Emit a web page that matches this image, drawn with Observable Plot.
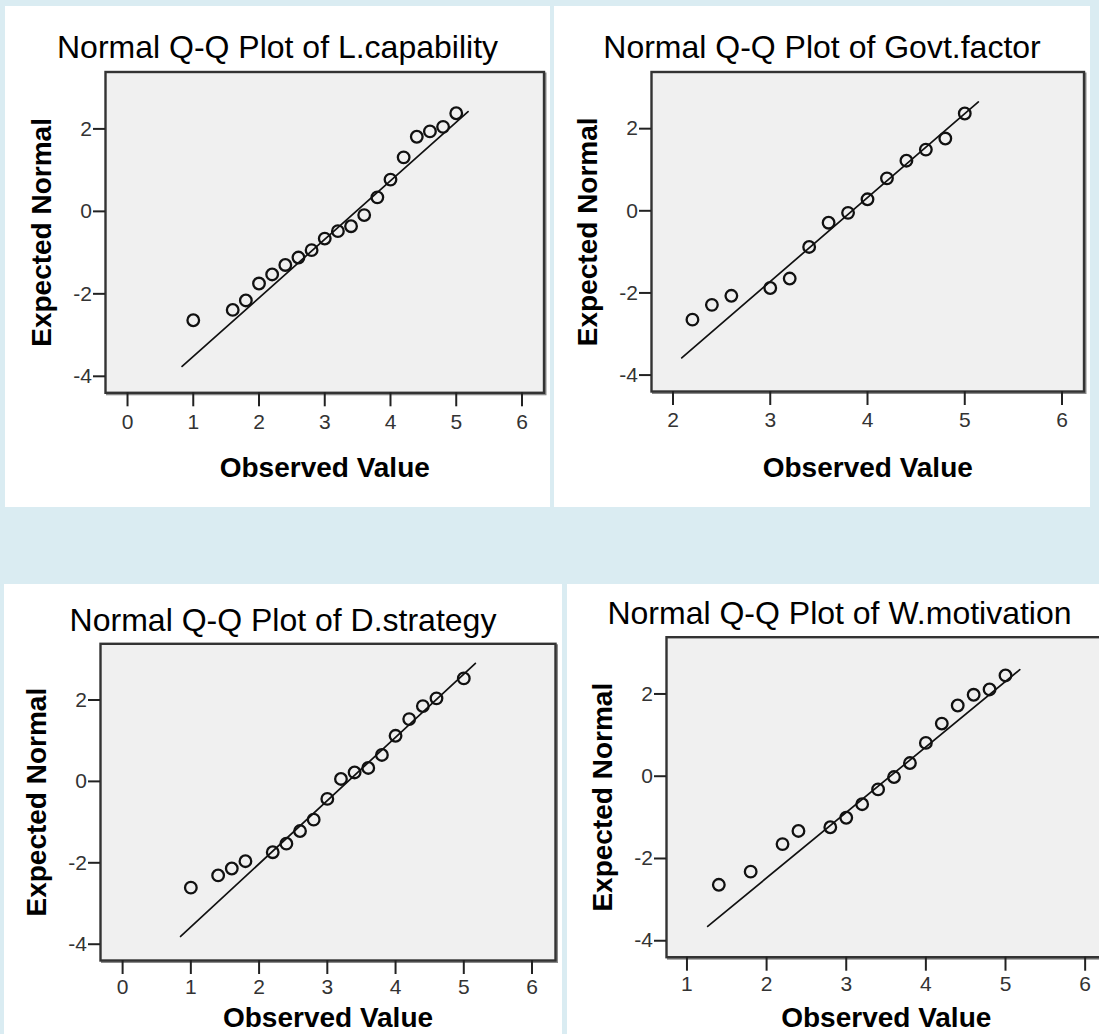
<!DOCTYPE html>
<html>
<head>
<meta charset="utf-8">
<script src="https://cdn.jsdelivr.net/npm/d3@7"></script>
<script src="https://cdn.jsdelivr.net/npm/@observablehq/plot@0.6"></script>
<style>
  html, body { margin: 0; padding: 0; background: #daecf2; }
  #root { position: relative; width: 1099px; height: 1034px; overflow: hidden; background: #daecf2;
          font-family: "Liberation Sans", Arial, sans-serif; }
  .panel { position: absolute; background: #fff; }
  .title { position: absolute; left: 0; width: 100%; text-align: center; font-size: 32px; line-height: 32px;
           color: #000; white-space: nowrap; }
  .panel svg { position: absolute; left: 0; top: 0; }
</style>
</head>
<body>
<div id="root"></div>
<script>
// ---- data ----
const titles = [
  "Normal Q-Q Plot of L.capability",
  "Normal Q-Q Plot of Govt.factor",
  "Normal Q-Q Plot of D.strategy",
  "Normal Q-Q Plot of W.motivation"
];
const xAxisLabel = "Observed Value";
const yAxisLabel = "Expected Normal";

const lcapObs = [1.0, 1.6, 1.8, 2.0, 2.2, 2.4, 2.6, 2.8, 3.0, 3.2, 3.4, 3.6, 3.8, 4.0, 4.2, 4.4, 4.6, 4.8, 5.0];
const lcapExp = [-2.64, -2.39, -2.16, -1.75, -1.53, -1.30, -1.12, -0.94, -0.66, -0.48, -0.36, -0.09, 0.34, 0.77, 1.31, 1.81, 1.94, 2.05, 2.38];
const lcapLineObs = [0.83, 5.18];
const lcapLineExp = [-3.76, 2.42];

const govtObs = [2.2, 2.4, 2.6, 3.0, 3.2, 3.4, 3.6, 3.8, 4.0, 4.2, 4.4, 4.6, 4.8, 5.0];
const govtExp = [-2.65, -2.29, -2.07, -1.88, -1.65, -0.88, -0.29, -0.05, 0.28, 0.79, 1.22, 1.49, 1.76, 2.37];
const govtLineObs = [2.09, 5.14];
const govtLineExp = [-3.58, 2.65];

const dstratObs = [1.0, 1.4, 1.6, 1.8, 2.2, 2.4, 2.6, 2.8, 3.0, 3.2, 3.4, 3.6, 3.8, 4.0, 4.2, 4.4, 4.6, 5.0];
const dstratExp = [-2.61, -2.31, -2.14, -1.96, -1.74, -1.53, -1.22, -0.94, -0.43, 0.06, 0.22, 0.33, 0.65, 1.12, 1.53, 1.85, 2.04, 2.53];
const dstratLineObs = [0.85, 5.17];
const dstratLineExp = [-3.81, 2.90];

const wmotObs = [1.4, 1.8, 2.2, 2.4, 2.8, 3.0, 3.2, 3.4, 3.6, 3.8, 4.0, 4.2, 4.4, 4.6, 4.8, 5.0];
const wmotExp = [-2.64, -2.32, -1.65, -1.33, -1.24, -1.01, -0.68, -0.32, -0.02, 0.32, 0.81, 1.28, 1.72, 1.98, 2.11, 2.45];
const wmotLineObs = [1.26, 5.18];
const wmotLineExp = [-3.65, 2.59];

const xTicks1 = [0, 1, 2, 3, 4, 5, 6];
const xTicks2 = [2, 3, 4, 5, 6];
const xTicks3 = [0, 1, 2, 3, 4, 5, 6];
const xTicks4 = [1, 2, 3, 4, 5, 6];
const yTicks = [-4, -2, 0, 2];

// ---- layout ----
const panels = [
  {title: titles[0], obs: lcapObs, exp: lcapExp, lo: lcapLineObs, le: lcapLineExp, xTicks: xTicks1,
   xDomain: [-0.335, 6.335], box: {left: 5, top: 6, width: 545, height: 501},
   frame: {l: 105, t: 71.5, r: 543.5, b: 392.3}, titleBase: 58, xLabDy: 84, tickPad: 7},
  {title: titles[1], obs: govtObs, exp: govtExp, lo: govtLineObs, le: govtLineExp, xTicks: xTicks2,
   xDomain: [1.779, 6.226], box: {left: 554, top: 6, width: 536, height: 501},
   frame: {l: 651, t: 71.5, r: 1083.5, b: 391}, titleBase: 58.3, xLabDy: 85, tickPad: 7},
  {title: titles[2], obs: dstratObs, exp: dstratExp, lo: dstratLineObs, le: dstratLineExp, xTicks: xTicks3,
   xDomain: [-0.324, 6.344], box: {left: 4, top: 584, width: 558, height: 470},
   frame: {l: 100, t: 643.3, r: 555, b: 960}, titleBase: 631, xLabDy: 66.5, tickPad: 5},
  {title: titles[3], obs: wmotObs, exp: wmotExp, lo: wmotLineObs, le: wmotLineExp, xTicks: xTicks4,
   xDomain: [0.743, 6.262], box: {left: 567, top: 584, width: 545, height: 470},
   frame: {l: 666, t: 636.7, r: 1105.5, b: 956.7}, titleBase: 624, xLabDy: 69.8, tickPad: 5}
];

const root = document.getElementById("root");
const fontFamily = '"Liberation Sans", Arial, sans-serif';

for (const p of panels) {
  const div = document.createElement("div");
  div.className = "panel";
  Object.assign(div.style, {left: p.box.left + "px", top: p.box.top + "px",
    width: p.box.width + "px", height: p.box.height + "px"});

  const pts = p.obs.map((o, i) => ({obs: o, exp: p.exp[i]}));
  const line = p.lo.map((o, i) => ({obs: o, exp: p.le[i]}));

  const svg = Plot.plot({
    width: p.box.width,
    height: p.box.height,
    marginLeft: p.frame.l - p.box.left,
    marginTop: p.frame.t - p.box.top,
    marginRight: p.box.left + p.box.width - p.frame.r,
    marginBottom: p.box.top + p.box.height - p.frame.b,
    style: {background: "transparent", fontFamily, overflow: "visible"},
    x: {domain: p.xDomain},
    y: {domain: [-4.4, 3.38]},
    marks: [
      Plot.frame({stroke: "#8a8a8a", strokeWidth: 2, dx: 1.5, dy: 1.5}),
      Plot.frame({fill: "#f0f0f0", stroke: "#333", strokeWidth: 2.4}),
      Plot.line(line, {x: "obs", y: "exp", stroke: "#111", strokeWidth: 1.7}),
      Plot.dot(pts, {x: "obs", y: "exp", r: 5.8, stroke: "#111", strokeWidth: 2.3, fill: "none"}),
      Plot.axisX(p.xTicks, {anchor: "bottom", tickSize: 14, tickPadding: p.tickPad, fontSize: 21,
        tickFormat: d => String(d), label: null, stroke: "#222", strokeWidth: 2, fill: "#333"}),
      Plot.axisY(yTicks, {anchor: "left", tickSize: 12, tickPadding: 1.5, fontSize: 21,
        tickFormat: d => String(d), label: null, stroke: "#222", strokeWidth: 2, fill: "#333"}),
      Plot.text([xAxisLabel], {text: d => d, frameAnchor: "bottom", dy: p.xLabDy, lineAnchor: "bottom",
        textAnchor: "middle", fontSize: 28, fontWeight: "bold", fill: "#000"}),
      Plot.text([yAxisLabel], {text: d => d, frameAnchor: "left", dx: -63.5, rotate: -90,
        lineAnchor: "middle", textAnchor: "middle", fontSize: 28, fontWeight: "bold", fill: "#000"})
    ]
  });
  div.appendChild(svg);

  const t = document.createElement("div");
  t.className = "title";
  t.textContent = p.title;
  t.style.top = (p.titleBase - p.box.top - 27.1) + "px";
  div.appendChild(t);

  root.appendChild(div);
}
</script>
</body>
</html>
